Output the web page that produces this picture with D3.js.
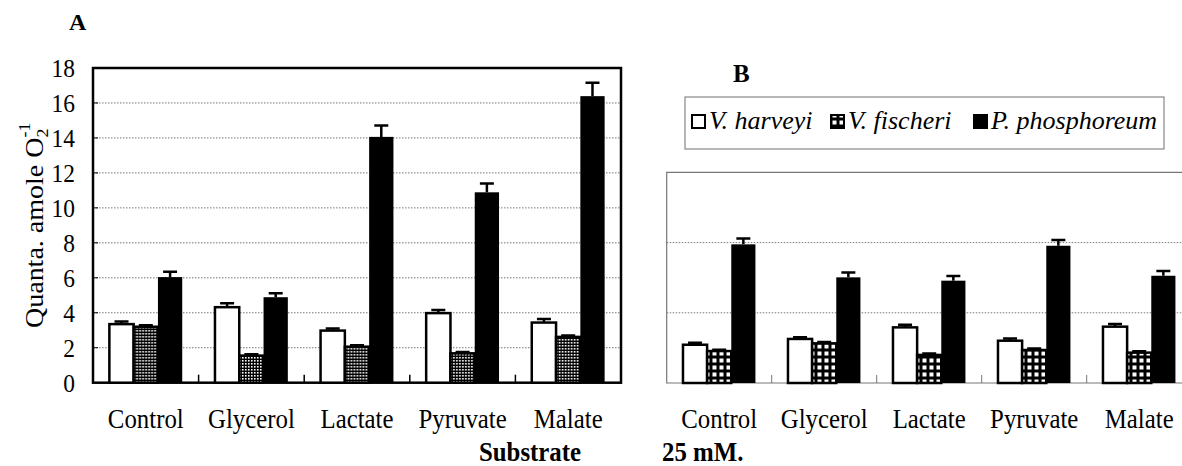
<!DOCTYPE html>
<html>
<head>
<meta charset="utf-8">
<script src="https://cdn.jsdelivr.net/npm/d3@7"></script>
<style>
  body { margin: 0; background: #fff; }
</style>
</head>
<body>
<div id="vis"></div>
<script>
const W = 1182, H = 466;
const FONT = "'Liberation Serif', 'DejaVu Serif', 'Times New Roman', serif";

// data
const substrates = ['Control', 'Glycerol', 'Lactate', 'Pyruvate', 'Malate'];
const species = ['V. harveyi', 'V. fischeri', 'P. phosphoreum'];

const harveyiA = [3.35, 4.32, 2.98, 3.98, 3.44];
const harveyiErrA = [0.15, 0.22, 0.12, 0.18, 0.2];
const fischeriA = [3.2, 1.55, 2.06, 1.68, 2.62];
const fischeriErrA = [0.08, 0.08, 0.08, 0.08, 0.08];
const phosphoreumA = [6.04, 4.89, 14.06, 10.89, 16.39];
const phosphoreumErrA = [0.3, 0.22, 0.65, 0.5, 0.77];

const harveyiB = [2.18, 2.51, 3.17, 2.41, 3.21];
const harveyiErrB = [0.12, 0.1, 0.15, 0.12, 0.15];
const fischeriB = [1.82, 2.26, 1.6, 1.88, 1.73];
const fischeriErrB = [0.08, 0.08, 0.08, 0.08, 0.08];
const phosphoreumB = [7.9, 6.02, 5.83, 7.82, 6.11];
const phosphoreumErrB = [0.34, 0.28, 0.27, 0.33, 0.27];

const ticksA = [0, 2, 4, 6, 8, 10, 12, 14, 16, 18];
const gridA = [2, 4, 6, 8, 10, 12, 14, 16];
const gridB = [4, 8];

const boxA = { left: 93, right: 621, top: 68, bottom: 382.7 };
const boxB = { left: 666.7, right: 1191.7, top: 172.4, bottom: 383 };

const svg = d3.select('#vis')
    .append('svg')
    .attr('width', W)
    .attr('height', H)
    .attr('font-family', FONT)
    .style('display', 'block');

const defs = svg.append('defs');

// dense checker for panel A
const patA = defs.append('pattern')
    .attr('id', 'checkA')
    .attr('patternUnits', 'userSpaceOnUse')
    .attr('width', 3).attr('height', 3);
patA.append('rect').attr('width', 3).attr('height', 3).attr('fill', '#000');
patA.append('rect').attr('width', 1.6).attr('height', 1.6).attr('fill', '#fff');

// coarse white-dot grid for panel B and legend
const patB = defs.append('pattern')
    .attr('id', 'dotB')
    .attr('patternUnits', 'userSpaceOnUse')
    .attr('width', 7).attr('height', 7);
patB.append('rect').attr('width', 7).attr('height', 7).attr('fill', '#000');
patB.append('rect').attr('x', 1.5).attr('y', 1.5).attr('width', 4).attr('height', 4).attr('fill', '#fff');

function buildRows(h, hErr, f, fErr, p, pErr){
    return substrates.map((s, i) => ({
        substrate: s,
        values: [
            { key: species[0], value: h[i], err: hErr[i] },
            { key: species[1], value: f[i], err: fErr[i] },
            { key: species[2], value: p[i], err: pErr[i] }
        ]
    }))
}

function drawPanel(box, rows, yMax, opt){
    const g = svg.append('g');

    const x0 = d3.scaleBand()
        .domain(substrates)
        .range([box.left, box.right])
        .paddingInner(0.31)
        .paddingOuter(0.155);

    const x1 = d3.scaleBand()
        .domain(species)
        .range([0, x0.bandwidth()]);

    const y = d3.scaleLinear()
        .domain([0, yMax])
        .range([box.bottom, box.top]);

    // gridlines
    g.selectAll('.grid')
        .data(opt.grid)
        .join('line')
        .attr('class', 'grid')
        .attr('x1', box.left).attr('x2', box.right)
        .attr('y1', d => y(d)).attr('y2', d => y(d))
        .attr('stroke', '#777')
        .attr('stroke-width', 1)
        .attr('stroke-dasharray', '1.5,1.5');

    // frame
    if (opt.heavy) {
        g.append('rect')
            .attr('x', box.left).attr('y', box.top)
            .attr('width', box.right - box.left)
            .attr('height', box.bottom - box.top)
            .attr('fill', 'none')
            .attr('stroke', '#000')
            .attr('stroke-width', 2.5);
    } else {
        g.append('path')
            .attr('d', `M${box.right},${box.top}H${box.left}V${box.bottom}H${box.right}`)
            .attr('fill', 'none')
            .attr('stroke', '#777')
            .attr('stroke-width', 1.2);
    }

    // group separators on the baseline
    const step = x0.step();
    g.selectAll('.sep')
        .data(substrates.slice(1))
        .join('line')
        .attr('class', 'sep')
        .attr('x1', d => x0(d) - step * 0.155).attr('x2', d => x0(d) - step * 0.155)
        .attr('y1', box.bottom).attr('y2', box.bottom - 8)
        .attr('stroke', opt.heavy ? '#000' : '#777')
        .attr('stroke-width', opt.heavy ? 1.5 : 1);

    const groups = g.selectAll('.grp')
        .data(rows)
        .join('g')
        .attr('class', 'grp')
        .attr('transform', d => `translate(${x0(d.substrate)},0)`);

    const fills = ['#fff', opt.pattern, '#000'];

    // error bars (drawn first so the bar outline covers the foot)
    groups.selectAll('.err')
        .data(d => d.values)
        .join('path')
        .attr('class', 'err')
        .attr('d', d => {
            const cx = x1(d.key) + x1.bandwidth() / 2;
            const top = y(d.value + d.err);
            return `M${cx},${y(d.value)}V${top}M${cx - 7},${top}H${cx + 7}`;
        })
        .attr('stroke', '#000')
        .attr('stroke-width', 2.5)
        .attr('fill', 'none');

    groups.selectAll('.bar')
        .data(d => d.values)
        .join('rect')
        .attr('class', 'bar')
        .attr('x', d => x1(d.key))
        .attr('y', d => y(d.value))
        .attr('width', x1.bandwidth())
        .attr('height', d => box.bottom - y(d.value))
        .attr('fill', (d, i) => fills[i])
        .attr('stroke', '#000')
        .attr('stroke-width', (d, i) => i === 2 ? 0 : 2.5);

    // category labels
    g.selectAll('.cat')
        .data(substrates)
        .join('text')
        .attr('class', 'cat')
        .attr('transform', d => `translate(${x0(d) + x0.bandwidth() / 2},428) scale(0.92,1)`)
        .attr('text-anchor', 'middle')
        .attr('font-size', 27)
        .text(d => d);

    return y;
}

function drawText(str, x, yPos, size, weight, anchor, sx){
    svg.append('text')
        .attr('transform', `translate(${x},${yPos}) scale(${sx},1)`)
        .attr('font-size', size)
        .attr('font-weight', weight)
        .attr('text-anchor', anchor)
        .text(str);
}

function init(){
    const rowsA = buildRows(harveyiA, harveyiErrA, fischeriA, fischeriErrA, phosphoreumA, phosphoreumErrA);
    const rowsB = buildRows(harveyiB, harveyiErrB, fischeriB, fischeriErrB, phosphoreumB, phosphoreumErrB);

    const yA = drawPanel(boxA, rowsA, 18, { grid: gridA, heavy: true, pattern: 'url(#checkA)' });
    drawPanel(boxB, rowsB, 12, { grid: gridB, heavy: false, pattern: 'url(#dotB)' });

    // y axis of panel A
    const yAxis = d3.axisLeft(yA).tickValues(ticksA).tickSize(0).tickPadding(20);
    const ax = svg.append('g')
        .attr('transform', `translate(${boxA.left},0)`)
        .call(yAxis)
        .attr('font-family', FONT)
        .attr('font-size', 26);
    ax.select('.domain').remove();
    ax.selectAll('text')
        .attr('fill', '#000')
        .attr('transform', 'scale(0.9,1)');

    // small inner ticks
    svg.selectAll('.ytick')
        .data(ticksA.slice(1, -1))
        .join('line')
        .attr('class', 'ytick')
        .attr('x1', boxA.left).attr('x2', boxA.left + 5)
        .attr('y1', d => yA(d)).attr('y2', d => yA(d))
        .attr('stroke', '#000');

    // y title
    const yt = svg.append('text')
        .attr('transform', 'translate(43,328) rotate(-90) scale(1,0.9)')
        .attr('font-size', 28);
    yt.append('tspan').text('Quanta. amole O');
    yt.append('tspan').attr('font-size', 18).attr('dy', 6).text('2');
    yt.append('tspan').attr('font-size', 18).attr('dx', -9).attr('dy', -20).text('-1');

    drawText('A', 69, 30, 24, 'bold', 'start', 1);
    drawText('B', 733, 82, 25, 'bold', 'start', 1);
    drawText('Substrate', 530, 461, 27, 'bold', 'middle', 0.92);
    drawText('25 mM.', 662, 461, 27, 'bold', 'start', 0.92);

    addLegend();
}

function addLegend(){
    const lg = svg.append('g');
    lg.append('rect')
        .attr('x', 685).attr('y', 97)
        .attr('width', 479).attr('height', 52)
        .attr('fill', '#fff')
        .attr('stroke', '#888')
        .attr('stroke-width', 1.2);

    const swatchFill = ['#fff', 'url(#dotB)', '#000'];
    const itemX = [692, 831, 974];

    const items = lg.selectAll('.item')
        .data(species)
        .join('g')
        .attr('class', 'item')
        .attr('transform', (d, i) => `translate(${itemX[i]},0)`);

    items.append('rect')
        .attr('x', 0).attr('y', 115)
        .attr('width', 13).attr('height', 13)
        .attr('fill', (d, i) => swatchFill[i])
        .attr('stroke', '#000')
        .attr('stroke-width', 2);

    items.append('text')
        .attr('x', 17).attr('y', 128.5)
        .attr('font-size', 26)
        .attr('font-style', 'italic')
        .text(d => d);
}

window.addEventListener('load', init);
</script>
</body>
</html>
